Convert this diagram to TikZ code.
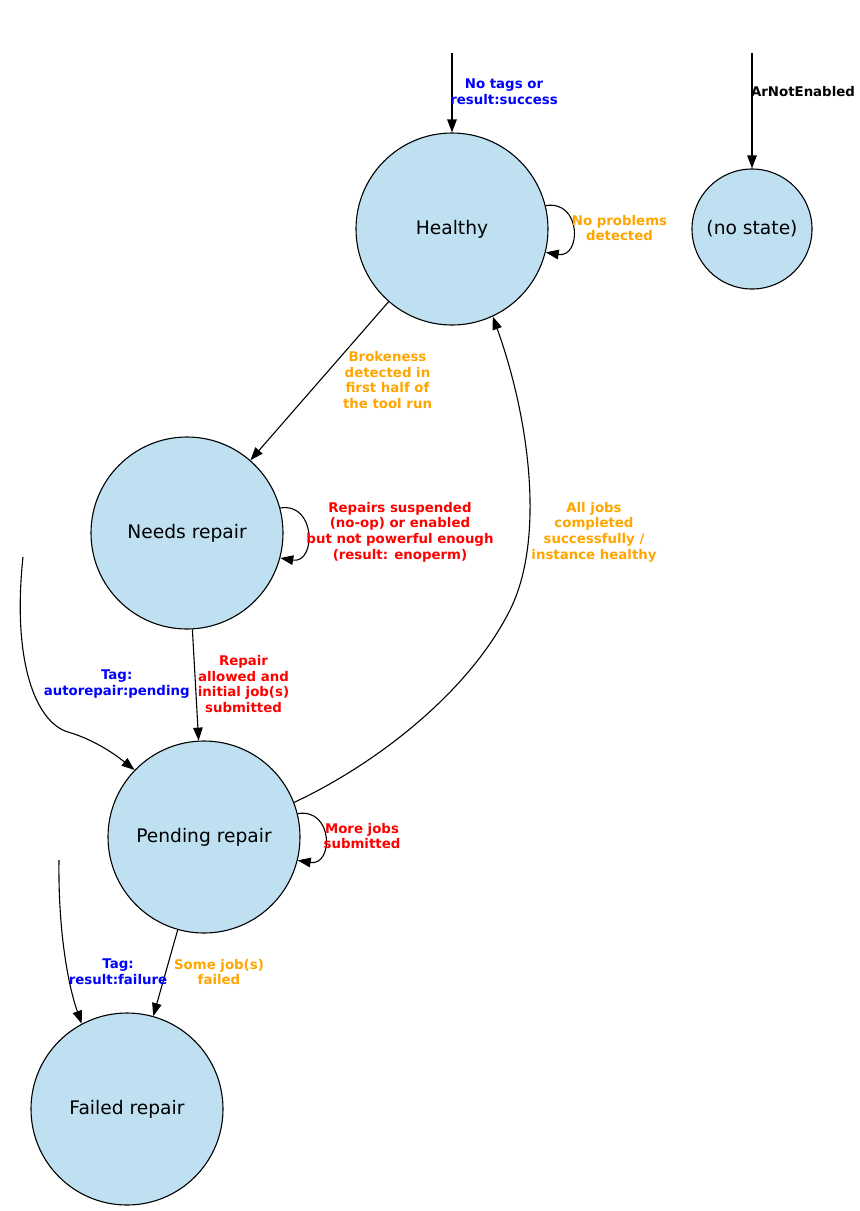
\documentclass[tikz,border=0pt]{standalone}
\usepackage{fontspec}
\setmainfont{DejaVu Sans}
\usetikzlibrary{arrows.meta}
\definecolor{statefill}{RGB}{190,224,241}
\definecolor{lblorange}{RGB}{255,165,0}
\definecolor{lblblue}{RGB}{0,0,255}
\definecolor{lblred}{RGB}{255,0,0}
\tikzset{
  state/.style={circle, draw=black, line width=1.1pt, fill=statefill, inner sep=0pt,
    font=\fontsize{18.67}{22}\selectfont},
  bigstate/.style={state, minimum size=192pt},
  smallstate/.style={state, minimum size=120pt},
  trans/.style={draw=black, line width=1.1pt, -{Triangle[length=13pt,width=9.5pt]}},
  lbl/.style={align=center, inner sep=0pt, font=\fontsize{13.33}{15.7}\selectfont\bfseries},
  lblo/.style={lbl, text=lblorange},
  lblb/.style={lbl, text=lblblue},
  lblr/.style={lbl, text=lblred},
  lblk/.style={lbl, text=black},
}
\begin{document}
\begin{tikzpicture}[x=1pt, y=-1pt]
\useasboundingbox (0,0) rectangle (860,1211);

% states
\node[bigstate] (H) at (452,229) {Healthy};
\node[smallstate] (S) at (752,229) {(no state)};
\node[bigstate] (N) at (187,533) {Needs repair};
\node[bigstate] (P) at (204,837) {Pending repair};
\node[bigstate] (F) at (127,1109) {Failed repair};

% entry points
\coordinate (inH) at (452,53);
\coordinate (inS) at (752,53);
\coordinate (inP) at (23,557);
\coordinate (inF) at (59,860);

% entry transitions
\draw[trans] (inH) -- (H);
\draw[trans] (inS) -- (S);
\draw[trans] (inP) .. controls (12,660) and (35,722) .. (68,732)
                   .. controls (92,739) and (112,752) .. (P.136.7);
\draw[trans] (inF) .. controls (58,930) and (68,985) .. (F.118);

% transitions between states
\draw[trans] (H) -- (N);
\draw[trans] (N) -- (P);
\draw[trans] (P) -- (F);
\draw[trans] (P.21.8) .. controls (380,762) and (470,690) .. (510,610)
                      .. controls (545,540) and (530,420) .. (H.-65.6);

% self loops
\draw[trans] (H.14) .. controls +(36,-6) and +(36,6) .. (H.-14);
\draw[trans] (N.15.5) .. controls +(36,-6) and +(36,6) .. (N.-15.5);
\draw[trans] (P.14.5) .. controls +(36,-6) and +(36,6) .. (P.-14.5);

% labels
\node[lblb] (lHin) at (504,92) {No tags or\\result:success};
\node[lblk] (lSin) at (803,92) {ArNotEnabled};
\node[lblo] (lHH) at (619.5,228) {No problems\\detected};
\node[lblo] (lHN) at (387.5,380) {Brokeness\\detected in\\first half of\\the tool run};
\node[lblr] (lNN) at (400,532) {Repairs suspended\\(no-op) or enabled\\but not powerful enough\\(result: enoperm)};
\node[lblo] (lPH) at (594,532) {All jobs\\completed\\successfully /\\instance healthy};
\node[lblr] (lNP) at (243.5,684) {Repair\\allowed and\\initial job(s)\\submitted};
\node[lblb] (lPin) at (116.7,684) {Tag:\\autorepair:pending};
\node[lblr] (lPP) at (362,836) {More jobs\\submitted};
\node[lblb] (lFin) at (118,972) {Tag:\\result:failure};
\node[lblo] (lPF) at (219,972) {Some job(s)\\failed};
\end{tikzpicture}
\end{document}
